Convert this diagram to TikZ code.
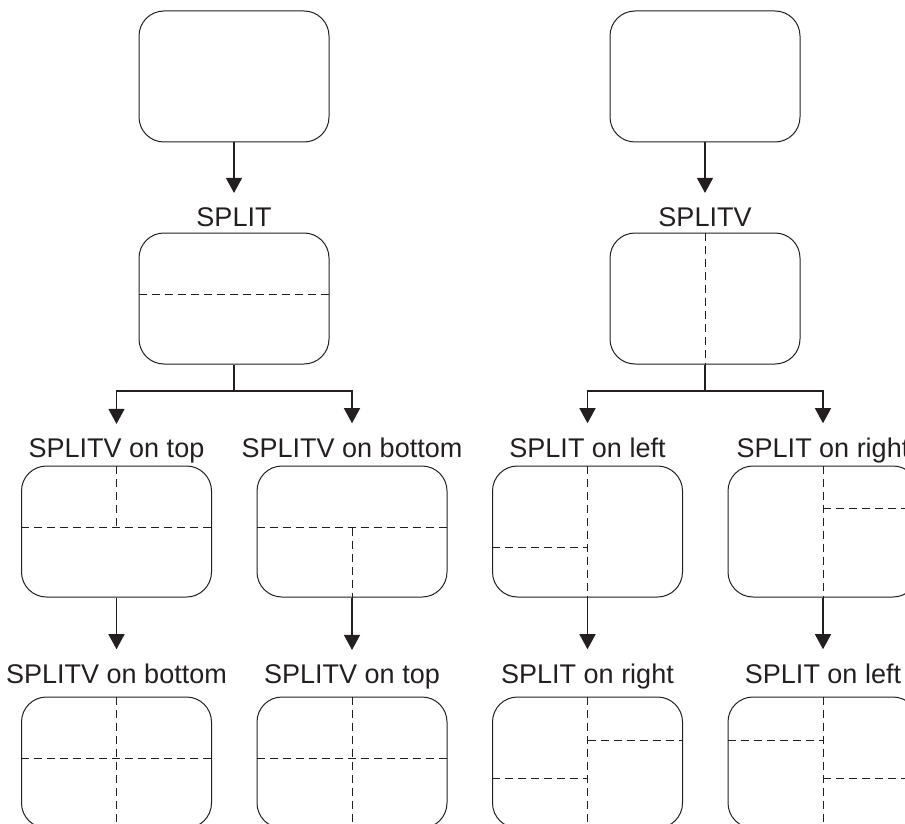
\documentclass[tikz,border=0pt]{standalone}
\usepackage{fontspec}
\setmainfont{Liberation Sans}
\usetikzlibrary{arrows.meta,positioning}
\definecolor{ink}{RGB}{35,31,32}

\begin{document}
\begin{tikzpicture}[
    x=1pt, y=-1pt, color=ink,
    win/.style={draw, rounded corners=25pt, minimum width=190pt, minimum height=131pt, inner sep=0pt, line width=1pt},
    lab/.style={anchor=base, inner xsep=0pt, inner ysep=14pt, font=\fontsize{27}{32}\selectfont},
    arrow/.style={-{Triangle[length=15pt,width=16pt]}, line width=1.2pt},
    cut/.style={dash pattern=on 8pt off 5pt, line width=0.8pt}
]
\clip (0,0) rectangle (905,824);
% first split
\node[win] (orig) at (234,76.5) {};
\node[lab] (lsplit) at (234,226) {SPLIT};
\node[win] (split) at (234,298.5) {};
\coordinate (fork) at (234,391);
\node[lab] (lvtop) at (116.5,457) {SPLITV on top};
\node[lab] (lvbot) at (352,457) {SPLITV on bottom};
\node[win] (vtop) at (116.5,531.5) {};
\node[win] (vbot) at (352,531.5) {};
\node[lab] (lvbot2) at (116.5,683) {SPLITV on bottom};
\node[lab] (lvtop2) at (352,683) {SPLITV on top};
\node[win] (vtopbot) at (116.5,762.5) {};
\node[win] (vbottop) at (352,762.5) {};

% first splitv
\node[win] (orig2) at (705,76.5) {};
\node[lab] (lsplitv) at (705,226) {SPLITV};
\node[win] (splitv) at (705,298.5) {};
\coordinate (forkv) at (705,391);
\node[lab] (lsleft) at (587.5,457) {SPLIT on left};
\node[lab] (lsright) at (823,457) {SPLIT on right};
\node[win] (sleft) at (587.5,531.5) {};
\node[win] (sright) at (823,531.5) {};
\node[lab] (lsright2) at (587.5,683) {SPLIT on right};
\node[lab] (lsleft2) at (823,683) {SPLIT on left};
\node[win] (sleftright) at (587.5,762.5) {};
\node[win] (srightleft) at (823,762.5) {};

% connectors
\draw[arrow] (orig) -- (lsplit);
\draw[line width=1.2pt] (split) -- (fork);
\draw[arrow] (fork) -| (lvtop);
\draw[arrow] (fork) -| (lvbot);
\draw[arrow] (vtop) -- (lvbot2);
\draw[arrow] (vbot) -- (lvtop2);
\draw[arrow] (orig2) -- (lsplitv);
\draw[line width=1.2pt] (splitv) -- (forkv);
\draw[arrow] (forkv) -| (lsleft);
\draw[arrow] (forkv) -| (lsright);
\draw[arrow] (sleft) -- (lsright2);
\draw[arrow] (sright) -- (lsleft2);

% window splits
\draw[cut] ([yshift=4pt]split.west) -- ([yshift=4pt]split.east);
\draw[cut] ([yshift=4pt]vtop.west) -- ([yshift=4pt]vtop.east) (vtop.north) -- ([yshift=4pt]vtop.center);
\draw[cut] ([yshift=4pt]vbot.west) -- ([yshift=4pt]vbot.east) ([yshift=4pt]vbot.center) -- (vbot.south);
\draw[cut] ([yshift=4pt]vtopbot.west) -- ([yshift=4pt]vtopbot.east) (vtopbot.north) -- (vtopbot.south);
\draw[cut] ([yshift=4pt]vbottop.west) -- ([yshift=4pt]vbottop.east) (vbottop.north) -- (vbottop.south);
\draw[cut] (splitv.north) -- (splitv.south);
\draw[cut] (sleft.north) -- (sleft.south) ([yshift=-15.5pt]sleft.west) -- ([yshift=-15.5pt]sleft.center);
\draw[cut] (sright.north) -- (sright.south) ([yshift=23.5pt]sright.center) -- ([yshift=23.5pt]sright.east);
\draw[cut] (sleftright.north) -- (sleftright.south) ([yshift=-15.5pt]sleftright.west) -- ([yshift=-15.5pt]sleftright.center)
    ([yshift=22.5pt]sleftright.center) -- ([yshift=22.5pt]sleftright.east);
\draw[cut] (srightleft.north) -- (srightleft.south) ([yshift=22.5pt]srightleft.west) -- ([yshift=22.5pt]srightleft.center)
    ([yshift=-15.5pt]srightleft.center) -- ([yshift=-15.5pt]srightleft.east);
\end{tikzpicture}
\end{document}
